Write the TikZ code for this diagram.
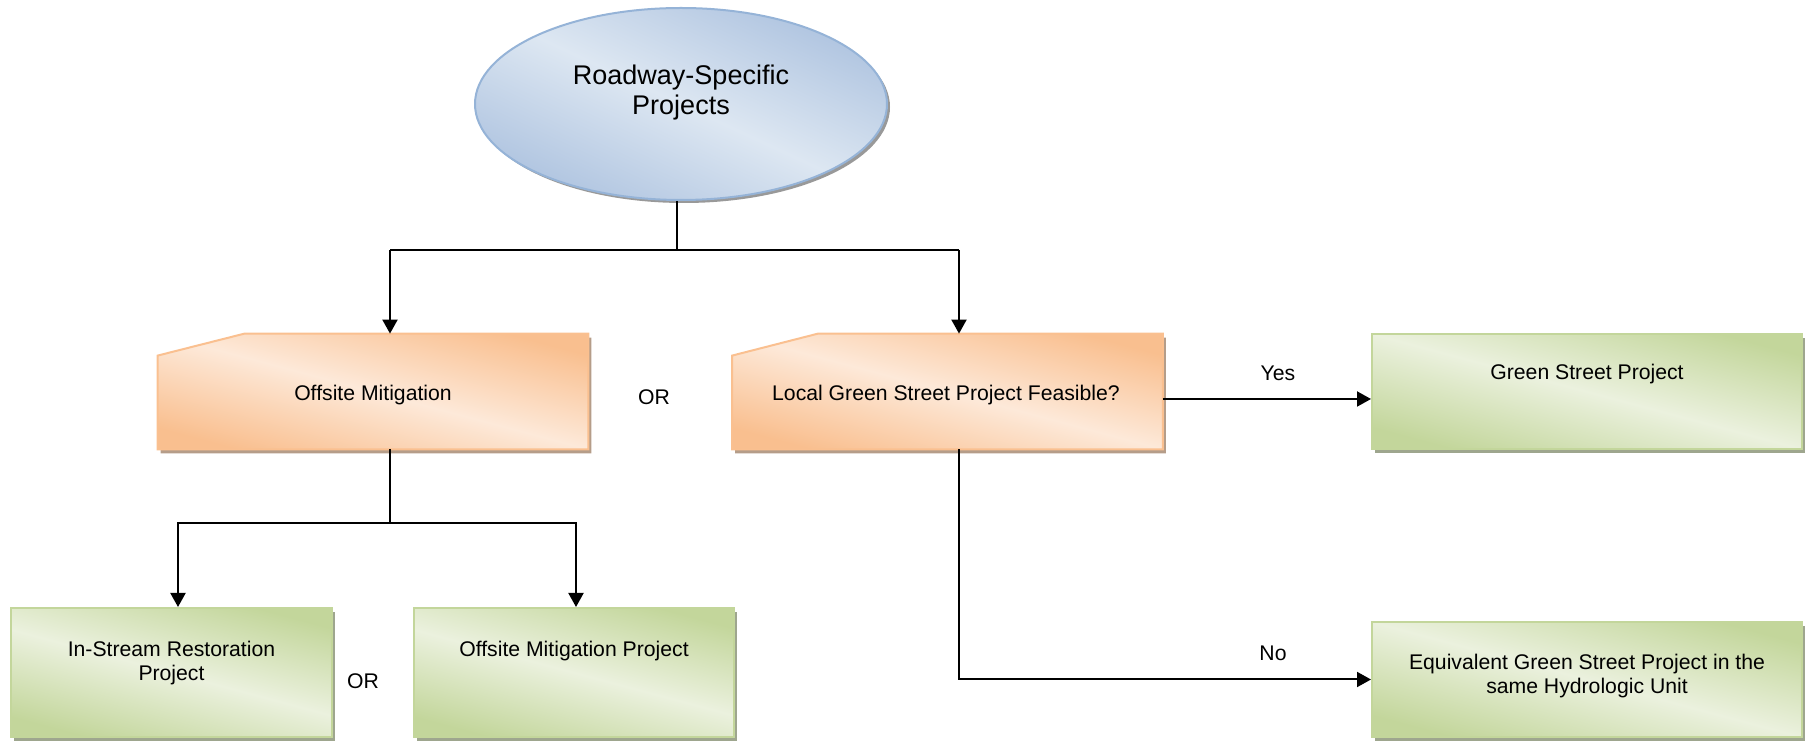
\documentclass[tikz,border=0pt]{standalone}
\usepackage{fontspec}
\setmainfont{Liberation Sans}
\usetikzlibrary{arrows.meta,shapes.geometric,shadows,backgrounds}
\definecolor{bluedark}{HTML}{AFC4E0}
\definecolor{bluelight}{HTML}{DDE7F2}
\definecolor{blueline}{HTML}{95B3D7}
\definecolor{ordark}{HTML}{F9BF8F}
\definecolor{orlight}{HTML}{FDE9D9}
\definecolor{orline}{HTML}{FAC090}
\definecolor{grdark}{HTML}{C3D69B}
\definecolor{grlight}{HTML}{EBF1DE}
\definecolor{grline}{HTML}{C3D69B}
\tikzset{
  txt/.style={font=\fontsize{10.6}{12.2}\selectfont, align=center, inner sep=0pt},
  bigtxt/.style={font=\fontsize{13.5}{15}\selectfont, align=center, inner sep=0pt},
  ovalshape/.style={ellipse, draw=blueline, line width=1pt, top color=bluedark, bottom color=bluedark, middle color=bluelight, shading angle=-25, drop shadow={shadow xshift=1.5pt, shadow yshift=-1.5pt, fill=black!40, opacity=1}},
  obox/.style={draw=orline, line width=1pt, top color=ordark, bottom color=ordark, middle color=orlight, shading angle=-15, drop shadow={shadow xshift=1.5pt, shadow yshift=-2pt, fill=orline!60!black!70, opacity=1}},
  onode/.style={minimum width=215pt, minimum height=57.5pt, inner sep=0pt},
  gbox/.style={rectangle, inner sep=0pt, draw=grline, line width=1pt, top color=grdark, bottom color=grdark, middle color=grlight, shading angle=-15, drop shadow={shadow xshift=1.5pt, shadow yshift=-2pt, fill=grline!60!black!70, opacity=1}},
  conn/.style={draw=black, line width=1pt},
  arr/.style={conn, -{Triangle[length=7pt,width=7.5pt]}},
}
\begin{document}
\begin{tikzpicture}[x=0.5pt,y=-0.5pt]
\useasboundingbox (0,0) rectangle (1811,742);
% top ellipse
\node[ovalshape, minimum width=206pt, minimum height=96pt] (E) at (681,104) {};
\node[bigtxt] (Et) at (681,93) {Roadway-Specific\\Projects};
% orange decision boxes
\node[onode] (OM) at (373,391.5) {};
\node[onode] (LG) at (947.5,391.5) {};
\begin{scope}[on background layer]
\path[obox] ([yshift=-11pt]OM.north west) -- ([xshift=43.5pt]OM.north west) -- (OM.north east) -- (OM.south east) -- (OM.south west) -- cycle;
\path[obox] ([yshift=-11pt]LG.north west) -- ([xshift=43pt]LG.north west) -- (LG.north east) -- (LG.south east) -- (LG.south west) -- cycle;
\end{scope}
\node[txt] (OMt) at (373,395) {Offsite Mitigation};
\node[txt] (LGt) at (946,395) {Local Green Street Project Feasible?};
% green boxes
\node[gbox, minimum width=215pt, minimum height=57.5pt] (GS) at (1587,391.5) {};
\node[txt] (GSt) at (1587,374) {Green Street Project};
\node[gbox, minimum width=215pt, minimum height=57.5pt] (EQ) at (1587,679.5) {};
\node[txt] (EQt) at (1587,676) {Equivalent Green Street Project in the\\same Hydrologic Unit};
\node[gbox, minimum width=160.5pt, minimum height=64.5pt] (IS) at (171.5,672.5) {};
\node[txt] (ISt) at (171.5,663) {In-Stream Restoration\\Project};
\node[gbox, minimum width=160pt, minimum height=64.5pt] (OMP) at (574,672.5) {};
\node[txt] (OMPt) at (574,651) {Offsite Mitigation Project};
% labels
\node[txt] (or1) at (654,397) {OR};
\node[txt] (or2) at (363,681) {OR};
\node[txt] (yes) at (1278,373) {Yes};
\node[txt] (no) at (1273,653) {No};
% connectors
\coordinate (a0) at (677,250);
\coordinate (b1) at (390,250);
\coordinate (b2) at (959,250);
\draw[conn] (a0 |- E.south) -- (a0);
\draw[conn] (b1) -- (b2);
\draw[arr] (b1) -- (b1 |- OM.north);
\draw[arr] (b2) -- (b2 |- LG.north);
\coordinate (c1) at (1162,399);
\draw[arr] (LG.east |- c1) -- (GS.west |- c1);
\draw[arr] (b2 |- LG.south) |- (EQ.west);
\coordinate (d0) at (390,523);
\coordinate (d1) at (178,523);
\coordinate (d2) at (576,523);
\draw[conn] (d0 |- OM.south) -- (d0);
\draw[arr] (d0) -| (d1 |- IS.north);
\draw[arr] (d0) -| (d2 |- OMP.north);
\end{tikzpicture}
\end{document}
